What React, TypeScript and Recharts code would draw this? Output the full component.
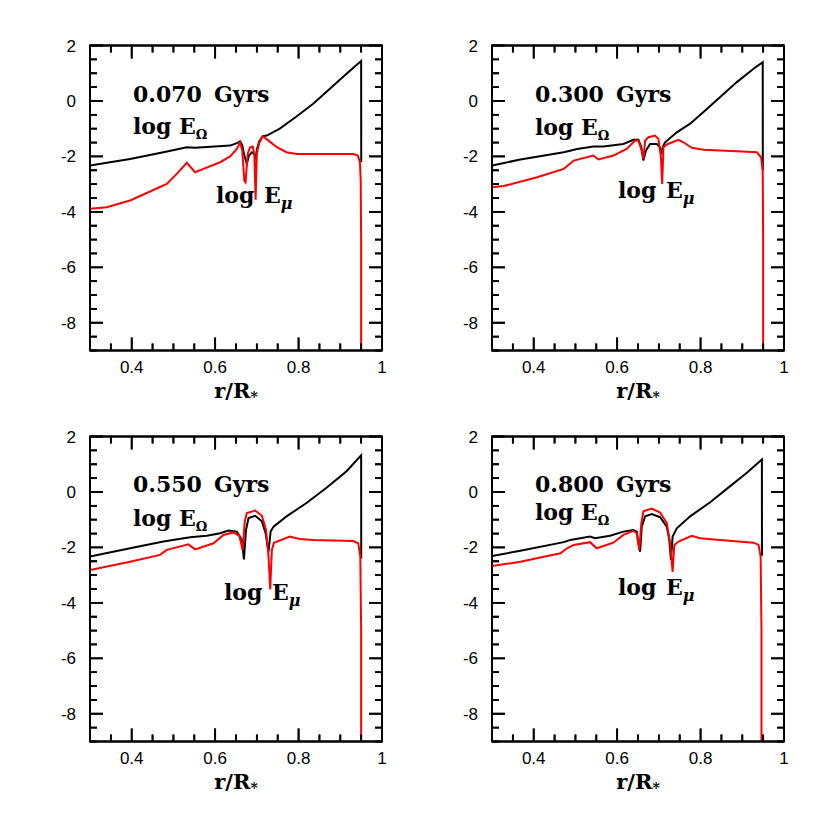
import React from 'react';
import { LineChart, Line, XAxis, YAxis } from 'recharts';

// ---------- axis ticks ----------
const X_TICKS = [0.3, 0.35, 0.4, 0.45, 0.5, 0.55, 0.6, 0.65, 0.7, 0.75, 0.8, 0.85, 0.9, 0.95, 1.0];
const X_LABELS = [0.4, 0.6, 0.8, 1];
const Y_TICKS = [-9, -8.5, -8, -7.5, -7, -6.5, -6, -5.5, -5, -4.5, -4, -3.5, -3, -2.5, -2, -1.5, -1, -0.5, 0, 0.5, 1, 1.5, 2];
const Y_LABELS = [-8, -6, -4, -2, 0, 2];
const AGES = ['0.070', '0.300', '0.550', '0.800'];

// ---------- series: [r/R*, log E] ----------
const omega070: [number, number][] = [
  [0.3, -2.33], [0.396, -2.09], [0.476, -1.85], [0.532, -1.67], [0.552, -1.69], [0.636, -1.61], [0.652, -1.52],
  [0.66, -1.46], [0.665, -1.6], [0.67, -1.97], [0.676, -2.27], [0.681, -1.97], [0.688, -1.85], [0.693, -1.9],
  [0.697, -2.05], [0.701, -1.7], [0.706, -1.45], [0.714, -1.27], [0.724, -1.25], [0.755, -1.0], [0.795, -0.56],
  [0.835, -0.1], [0.875, 0.44], [0.915, 0.98], [0.95, 1.44], [0.9502, -2.2],
];
const mu070: [number, number][] = [
  [0.3, -3.89], [0.34, -3.83], [0.396, -3.59], [0.436, -3.32], [0.484, -2.99], [0.508, -2.63], [0.532, -2.23],
  [0.552, -2.57], [0.572, -2.45], [0.612, -2.21], [0.636, -2.0], [0.652, -1.73], [0.66, -1.49], [0.665, -1.79],
  [0.67, -2.87], [0.673, -2.93], [0.678, -1.9], [0.684, -1.67], [0.69, -1.64], [0.694, -1.9], [0.697, -3.56],
  [0.7, -1.9], [0.705, -1.55], [0.714, -1.27], [0.728, -1.43], [0.748, -1.67], [0.771, -1.85], [0.795, -1.91],
  [0.835, -1.91], [0.931, -1.91], [0.942, -1.97], [0.947, -2.2], [0.949, -2.87], [0.95, -5.03], [0.95, -9],
];
const omega300: [number, number][] = [
  [0.3, -2.33], [0.368, -2.11], [0.472, -1.85], [0.504, -1.73], [0.543, -1.64], [0.567, -1.64], [0.615, -1.55],
  [0.639, -1.4], [0.651, -1.4], [0.658, -1.67], [0.663, -2.15], [0.669, -1.79], [0.679, -1.55], [0.695, -1.55],
  [0.702, -1.65], [0.707, -1.85], [0.711, -1.6], [0.715, -1.49], [0.743, -1.13], [0.775, -0.82], [0.807, -0.4],
  [0.847, 0.14], [0.887, 0.68], [0.927, 1.16], [0.949, 1.4], [0.9492, -2.5],
];
const mu300: [number, number][] = [
  [0.3, -3.11], [0.328, -3.07], [0.408, -2.75], [0.472, -2.45], [0.496, -2.15], [0.543, -1.97], [0.555, -2.11],
  [0.591, -1.97], [0.623, -1.73], [0.643, -1.43], [0.651, -1.43], [0.659, -1.79], [0.663, -2.09], [0.667, -1.43],
  [0.675, -1.31], [0.691, -1.25], [0.699, -1.37], [0.705, -2.03], [0.708, -2.99], [0.711, -1.67], [0.719, -1.57],
  [0.747, -1.4], [0.759, -1.49], [0.779, -1.69], [0.807, -1.76], [0.887, -1.81], [0.935, -1.85], [0.945, -2.03],
  [0.949, -2.51], [0.95, -5.03], [0.95, -9],
];
const omega550: [number, number][] = [
  [0.3, -2.33], [0.396, -2.03], [0.476, -1.79], [0.54, -1.63], [0.58, -1.58], [0.612, -1.49], [0.632, -1.39],
  [0.652, -1.43], [0.664, -1.73], [0.669, -2.43], [0.674, -1.37], [0.68, -0.94], [0.696, -0.86], [0.712, -1.06],
  [0.721, -1.49], [0.728, -2.15], [0.733, -1.43], [0.74, -1.25], [0.771, -0.88], [0.819, -0.4], [0.867, 0.15],
  [0.915, 0.75], [0.95, 1.32], [0.9502, -2.4],
];
const mu550: [number, number][] = [
  [0.3, -2.82], [0.396, -2.52], [0.468, -2.27], [0.484, -2.09], [0.536, -1.89], [0.552, -2.07], [0.596, -1.85],
  [0.62, -1.55], [0.644, -1.46], [0.658, -1.58], [0.666, -2.09], [0.671, -1.06], [0.676, -0.76], [0.696, -0.67],
  [0.712, -0.86], [0.722, -1.37], [0.728, -2.33], [0.732, -3.52], [0.736, -2.09], [0.741, -1.83], [0.779, -1.61],
  [0.803, -1.7], [0.835, -1.73], [0.931, -1.77], [0.943, -1.85], [0.948, -2.33], [0.95, -4.99], [0.95, -9],
];
const omega800: [number, number][] = [
  [0.3, -2.31], [0.368, -2.12], [0.472, -1.81], [0.488, -1.73], [0.535, -1.61], [0.547, -1.67], [0.583, -1.58],
  [0.615, -1.43], [0.639, -1.37], [0.647, -1.43], [0.651, -1.85], [0.655, -2.15], [0.659, -1.25], [0.667, -0.88],
  [0.683, -0.8], [0.703, -0.91], [0.719, -1.25], [0.725, -1.73], [0.729, -2.45], [0.733, -1.61], [0.743, -1.31],
  [0.775, -0.88], [0.823, -0.37], [0.871, 0.21], [0.911, 0.69], [0.947, 1.17], [0.9472, -2.3],
];
const mu800: [number, number][] = [
  [0.3, -2.67], [0.368, -2.52], [0.464, -2.21], [0.48, -2.03], [0.496, -1.91], [0.535, -1.81], [0.551, -2.03],
  [0.591, -1.83], [0.615, -1.55], [0.639, -1.4], [0.647, -1.49], [0.653, -2.09], [0.658, -1.12], [0.663, -0.7],
  [0.683, -0.6], [0.703, -0.74], [0.719, -1.12], [0.727, -1.85], [0.733, -2.88], [0.737, -1.91], [0.747, -1.79],
  [0.779, -1.58], [0.799, -1.67], [0.847, -1.73], [0.927, -1.83], [0.939, -1.91], [0.944, -2.33], [0.946, -4.99],
  [0.946, -9],
];

const OMEGA = [omega070, omega300, omega550, omega800];
const MU = [mu070, mu300, mu550, mu800];

// ---------- layout ----------
const CW = 415;
const CH = 415;
const M = { top: 35.5, right: 23, bottom: 24.5, left: 50 };
const XB_H = 40, XT_H = 10, YL_W = 40, YR_W = 10;
const PL = M.left + YL_W;
const PR = CW - M.right - YR_W;
const PT = M.top + XT_H;
const PB = CH - M.bottom - XB_H;
const X_DOM = [0.3, 1];
const Y_DOM = [-9, 2];
const sx = (r: number) => PL + ((r - X_DOM[0]) / (X_DOM[1] - X_DOM[0])) * (PR - PL);
const sy = (v: number) => PT + ((Y_DOM[1] - v) / (Y_DOM[1] - Y_DOM[0])) * (PB - PT);

// annotation baselines, relative to each chart's top-left
const ANN = [
  { gx: 133, gy: 102, ox: 133, oy: 134, mx: 216, my: 203 },
  { gx: 133, gy: 102, ox: 133, oy: 135, mx: 216, my: 198 },
  { gx: 133, gy: 101, ox: 133, oy: 135, mx: 224, my: 209 },
  { gx: 133, gy: 101, ox: 133, oy: 129, mx: 216, my: 204 },
];

const isIn = (v: number, arr: number[]) => arr.some((a) => Math.abs(a - v) < 1e-6);
const SANS = "'Liberation Sans', Arial, sans-serif";
const SERIF = "'DejaVu Serif', serif";
const MAJ = 13;
const MIN = 7;

const BottomTick = (p: any) => {
  const { x, y, payload } = p;
  const major = isIn(payload.value, X_LABELS);
  const L = major ? MAJ : MIN;
  return (
    <g>
      <path d={`M${x},${y}L${x},${y - L}`} stroke="#000" strokeWidth={1.8} fill="none" />
      {major && <text x={x} y={y + 22} textAnchor="middle" fontFamily={SANS} fontSize={17}>{String(payload.value)}</text>}
    </g>
  );
};
const TopTick = (p: any) => {
  const { x, y, payload } = p;
  const L = isIn(payload.value, X_LABELS) ? MAJ : MIN;
  return <path d={`M${x},${y}L${x},${y + L}`} stroke="#000" strokeWidth={1.8} fill="none" />;
};
const LeftTick = (p: any) => {
  const { x, y, payload } = p;
  const major = isIn(payload.value, Y_LABELS);
  const L = major ? MAJ : MIN;
  return (
    <g>
      <path d={`M${x},${y}L${x + L},${y}`} stroke="#000" strokeWidth={1.8} fill="none" />
      {major && <text x={x - 14} y={y + 6} textAnchor="end" fontFamily={SANS} fontSize={17}>{String(payload.value)}</text>}
    </g>
  );
};
const RightTick = (p: any) => {
  const { x, y, payload } = p;
  const L = isIn(payload.value, Y_LABELS) ? MAJ : MIN;
  return <path d={`M${x},${y}L${x - L},${y}`} stroke="#000" strokeWidth={1.8} fill="none" />;
};

const toRows = (arr: [number, number][]) => arr.map(([r, v]) => ({ r, v }));
const axisLine = { stroke: '#000', strokeWidth: 2 };

// frame + inward tick marks (same geometry as the chart's plot area)
function Frame() {
  const d: string[] = [];
  X_TICKS.forEach((t) => {
    const L = isIn(t, X_LABELS) ? MAJ : MIN;
    const x = sx(t);
    d.push(`M${x},${PB}L${x},${PB - L}`);
    d.push(`M${x},${PT}L${x},${PT + L}`);
  });
  Y_TICKS.forEach((t) => {
    const L = isIn(t, Y_LABELS) ? MAJ : MIN;
    const y = sy(t);
    d.push(`M${PL},${y}L${PL + L},${y}`);
    d.push(`M${PR},${y}L${PR - L},${y}`);
  });
  return (
    <svg width={CW} height={CH} style={{ position: 'absolute', left: 0, top: 0, pointerEvents: 'none' }}>
      <path d={d.join('')} stroke="#000" strokeWidth={1.8} fill="none" />
      <rect x={PL} y={PT} width={PR - PL} height={PB - PT} stroke="#000" strokeWidth={2} fill="none" />
    </svg>
  );
}

// HTML text placed by its baseline
const txt = (left: number, baseline: number, size: number): React.CSSProperties => ({
  position: 'absolute',
  left,
  top: baseline - size * 0.845,
  fontFamily: SERIF,
  fontWeight: 'bold',
  fontSize: size,
  lineHeight: `${size}px`,
  whiteSpace: 'nowrap',
  color: '#000',
  pointerEvents: 'none',
});

function Panel({ i }: { i: number }) {
  const omega = toRows(OMEGA[i]);
  const mu = toRows(MU[i]);
  const a = ANN[i];
  return (
    <div style={{ position: 'absolute', left: (i % 2) * 402, top: Math.floor(i / 2) * 391, width: CW, height: CH }}>
      <LineChart width={CW} height={CH} margin={M}>
        <XAxis xAxisId="b" dataKey="r" type="number" orientation="bottom" domain={X_DOM} allowDataOverflow
          ticks={X_TICKS} interval={0} height={XB_H} tickSize={0} tickMargin={0} tickLine={false}
          axisLine={axisLine} tick={BottomTick} />
        <XAxis xAxisId="t" dataKey="r" type="number" orientation="top" domain={X_DOM} allowDataOverflow
          ticks={X_TICKS} interval={0} height={XT_H} tickSize={0} tickMargin={0} tickLine={false}
          axisLine={axisLine} tick={TopTick} />
        <YAxis yAxisId="l" type="number" orientation="left" domain={Y_DOM} allowDataOverflow
          ticks={Y_TICKS} interval={0} width={YL_W} tickSize={0} tickMargin={0} tickLine={false}
          axisLine={axisLine} tick={LeftTick} />
        <YAxis yAxisId="r" type="number" orientation="right" domain={Y_DOM} allowDataOverflow
          ticks={Y_TICKS} interval={0} width={YR_W} tickSize={0} tickMargin={0} tickLine={false}
          axisLine={axisLine} tick={RightTick} />
        <Line xAxisId="b" yAxisId="l" data={omega} dataKey="v" stroke="#000" strokeWidth={2} dot={false} isAnimationActive={false} />
        <Line xAxisId="b" yAxisId="l" data={mu} dataKey="v" stroke="#f00" strokeWidth={2} dot={false} isAnimationActive={false} />
        {/* invisible companion so the mirrored top/right frame axes are drawn */}
        <Line xAxisId="t" yAxisId="r" data={omega} dataKey="v" stroke="none" strokeWidth={0} dot={false} isAnimationActive={false} />
      </LineChart>
      <Frame />
      <div style={txt(a.gx, a.gy, 22)}>
        {AGES[i]}<span style={{ marginLeft: 12 }}>Gyrs</span>
      </div>
      <div style={txt(a.ox, a.oy, 22)}>log</div>
      <div style={txt(a.ox + 46, a.oy, 22)}>
        E<span style={{ fontSize: 13, position: 'relative', top: 5 }}>Ω</span>
      </div>
      <div style={txt(a.mx, a.my, 22)}>log</div>
      <div style={txt(a.mx + 48, a.my, 22)}>
        E<span style={{ fontSize: 16, fontStyle: 'italic', position: 'relative', top: 6 }}>μ</span>
      </div>
      <div style={{ ...txt(136, 398, 21), width: 200, textAlign: 'center' }}>
        r/R<span style={{ fontSize: 14, position: 'relative', top: 4 }}>*</span>
      </div>
    </div>
  );
}

export default function App() {
  return (
    <div style={{ position: 'absolute', left: 0, top: 0, width: 830, height: 829, background: '#fff' }}>
      {[0, 1, 2, 3].map((i) => <Panel key={i} i={i} />)}
    </div>
  );
}
